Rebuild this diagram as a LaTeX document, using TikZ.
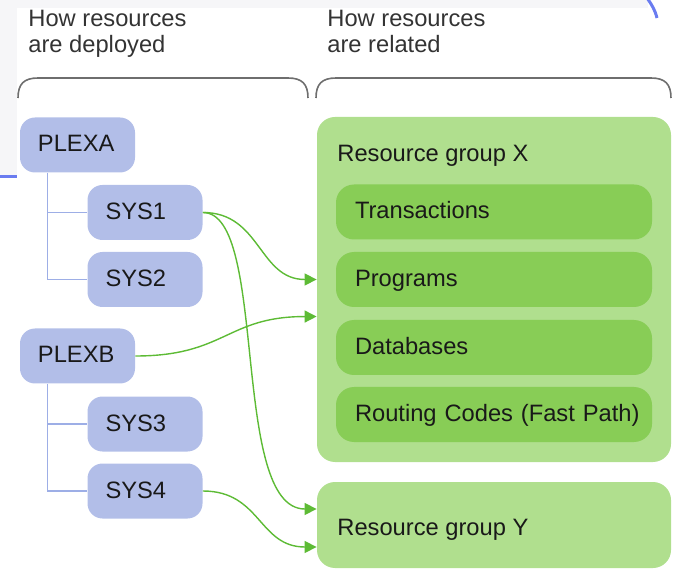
\documentclass[tikz,border=0pt]{standalone}
\usepackage{fontspec}
\setmainfont{Liberation Sans}
\usetikzlibrary{arrows.meta,calc}
\definecolor{sysblue}{HTML}{B2BEE8}
\definecolor{treeblue}{HTML}{9DAEE6}
\definecolor{grplight}{HTML}{B0DF8E}
\definecolor{grpdark}{HTML}{88CD56}
\definecolor{linkgreen}{HTML}{5DBB35}
\definecolor{bracegray}{HTML}{6E6E6E}
\definecolor{edgeblue}{HTML}{6A7CF0}
\definecolor{stripgray}{HTML}{F6F6F8}
\tikzstyle{every node} = [font=\fontsize{11.85}{13.5}\selectfont,text=black!90]
\tikzstyle{sysbox} = [fill=sysblue,rounded corners=7.5pt,minimum width=57.5pt,minimum height=27.5pt,inner xsep=9pt,text width=39.5pt,align=left,text height=8.5pt,text depth=1.5pt]
\tikzstyle{resbox} = [fill=grpdark,rounded corners=9pt,minimum width=158pt,minimum height=27.5pt,inner xsep=9.5pt,text width=139pt,align=left,text height=8.5pt,text depth=1.5pt]
\tikzstyle{group} = [fill=grplight,rounded corners=9pt,inner sep=0pt,minimum width=177pt]
\tikzstyle{grouplabel} = [anchor=base west,inner sep=0pt]
\tikzstyle{head} = [anchor=north west,inner sep=0pt,align=left,text=black!80,font=\fontsize{11.85}{12.8}\selectfont]
\tikzstyle{tree} = [draw=treeblue,line width=0.7pt]
\tikzstyle{link} = [draw=linkgreen,line width=0.7pt,-{Triangle[length=6pt,width=6pt]}]
\tikzstyle{brace} = [draw=bracegray,line width=0.8pt]
\begin{document}
\begin{tikzpicture}[x=0.5pt,y=-0.5pt]
\useasboundingbox (0,0) rectangle (675,572);

\fill[stripgray] (0,0) rectangle (17,177);
\fill[stripgray] (17,0) rectangle (648,8);
\draw[edgeblue,line width=1.5pt] (0,177) -- (17,177);
\draw[edgeblue,line width=1.5pt] (647,-2) .. controls (652,5) and (655,10) .. (657,18);

\node[head] (deployed) at (28,10) {How resources\\are deployed};
\node[head] (related) at (327,10) {How resources\\are related};

\draw[brace] (18,98) .. controls (18,84) and (24,78) .. (38,78) -- (288,78) .. controls (302,78) and (308,84) .. (308,98);
\draw[brace] (316,98) .. controls (316,84) and (322,78) .. (336,78) -- (651,78) .. controls (665,78) and (671,84) .. (671,98);

\node[sysbox] (plexa) at (77.5,145) {PLEXA};
\node[sysbox] (sys1) at (145,212.5) {SYS1};
\node[sysbox] (sys2) at (145,279.5) {SYS2};
\node[sysbox] (plexb) at (77.5,356) {PLEXB};
\node[sysbox] (sys3) at (145,424) {SYS3};
\node[sysbox] (sys4) at (145,491) {SYS4};

\draw[tree] ([xshift=14pt]plexa.south west) |- (sys1.west);
\draw[tree] ([xshift=14pt]plexa.south west) |- (sys2.west);
\draw[tree] ([xshift=14pt]plexb.south west) |- (sys3.west);
\draw[tree] ([xshift=14pt]plexb.south west) |- (sys4.west);

\node[group,minimum height=172.5pt] (rgX) at (494,289.5) {};
\node[grouplabel] (rgXlabel) at (337,162) {Resource group X};
\node[resbox] (trans) at (494,212) {Transactions};
\node[resbox] (prog) at (494,279.5) {Programs};
\node[resbox] (db) at (494,347.5) {Databases};
\node[resbox] (route) at (494,414.5) {\mbox{Routing Codes (Fast Path)}};
\node[group,minimum height=43pt] (rgY) at (494,525) {};
\node[grouplabel] (rgYlabel) at (337,535) {Resource group Y};

\coordinate (inX) at ($(prog.south)!0.75!(db.north)$);

\draw[link] (sys1.east) .. controls +(58,0) and +(-58,0) .. (rgX.west |- prog);
\draw[link] (sys1.east) .. controls +(66,0) and +(-87,0) .. ([yshift=8pt]rgY.west);
\draw[link] (plexb.east) .. controls +(90,0) and +(-90,0) .. (rgX.west |- inX);
\draw[link] (sys4.east) .. controls +(58,0) and +(-58,0) .. ([yshift=-11pt]rgY.west);

\end{tikzpicture}
\end{document}
